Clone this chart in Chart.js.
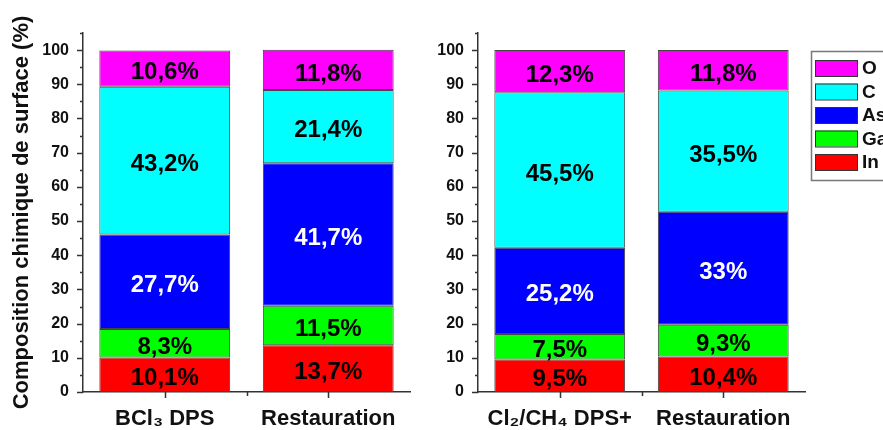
<!DOCTYPE html>
<html>
<head>
<meta charset="utf-8">
<script src="https://cdn.jsdelivr.net/npm/chart.js@4"></script>
<style>
  body { margin: 0; background: #fff; }
  #wrap { position: relative; width: 883px; height: 430px; overflow: hidden; }
  #left { position: absolute; left: 0; top: 0; }
  #right { position: absolute; left: 420px; top: 0; }
</style>
</head>
<body>
<div id="wrap">
  <canvas id="left" width="420" height="430"></canvas>
  <canvas id="right" width="463" height="430"></canvas>
</div>
<script>
// categories (left panel / right panel)
const categoriesLeft = ['BCl₃ DPS', 'Restauration'];
const categoriesRight = ['Cl₂/CH₄ DPS+', 'Restauration'];

// surface composition (%) for the 4 bars, in order
const valuesIn = [10.1, 13.7, 9.5, 10.4];
const valuesGa = [8.3, 11.5, 7.5, 9.3];
const valuesAs = [27.7, 41.7, 25.2, 33];
const valuesC  = [43.2, 21.4, 45.5, 35.5];
const valuesO  = [10.6, 11.8, 12.3, 11.8];

const yTitle = 'Composition chimique de surface (%)';
const yMax = 105;

const FONT = '"Liberation Sans", Arial, sans-serif';

function getDatasets(from, to){
    return [
        {label: 'In', data: valuesIn.slice(from, to), backgroundColor: '#ff0000', labelColor: '#000'},
        {label: 'Ga', data: valuesGa.slice(from, to), backgroundColor: '#00ff00', labelColor: '#000'},
        {label: 'As', data: valuesAs.slice(from, to), backgroundColor: '#0000ff', labelColor: '#fff'},
        {label: 'C',  data: valuesC.slice(from, to),  backgroundColor: '#00ffff', labelColor: '#000'},
        {label: 'O',  data: valuesO.slice(from, to),  backgroundColor: '#ff00ff', labelColor: '#000'}
    ].map(ds => Object.assign(ds, {
        borderColor: '#444',
        borderWidth: 1,
        borderSkipped: false,
        barPercentage: 0.8,
        categoryPercentage: 1.0
    }));
}

// percent labels in the middle of each segment
const segmentLabels = {
    id: 'segmentLabels',
    afterDatasetsDraw(chart){
        const ctx = chart.ctx;
        ctx.save();
        ctx.font = 'bold 24px ' + FONT;
        ctx.textAlign = 'center';
        ctx.textBaseline = 'middle';
        chart.data.datasets.forEach((ds, i) => {
            chart.getDatasetMeta(i).data.forEach((bar, j) => {
                const v = ds.data[j];
                ctx.fillStyle = ds.labelColor;
                ctx.fillText(String(v).replace('.', ',') + '%', bar.x, (bar.y + bar.base) / 2 + 4);
            });
        });
        ctx.restore();
    }
};

// outward tick marks, major / minor
const axisTicks = {
    id: 'axisTicks',
    afterDraw(chart){
        const ctx = chart.ctx;
        const ys = chart.scales.y, xs = chart.scales.x;
        const area = chart.chartArea;
        ctx.save();
        ctx.strokeStyle = '#333';
        ctx.lineWidth = 1.5;
        ctx.beginPath();
        ys.ticks.forEach(t => {
            const py = Math.round(ys.getPixelForValue(t.value)) + 0.5;
            const len = t.value % 10 === 0 ? 6 : 3;
            ctx.moveTo(area.left, py);
            ctx.lineTo(area.left - len, py);
        });
        const n = chart.data.labels.length;
        for (let i = 0; i < n; i++){
            const px = Math.round(xs.getPixelForValue(i)) + 0.5;
            ctx.moveTo(px, area.bottom);
            ctx.lineTo(px, area.bottom + 6);
            if (i < n - 1){
                const mid = Math.round((xs.getPixelForValue(i) + xs.getPixelForValue(i + 1)) / 2) + 0.5;
                ctx.moveTo(mid, area.bottom);
                ctx.lineTo(mid, area.bottom + 4);
            }
        }
        ctx.stroke();
        ctx.restore();
    }
};

// boxed legend on the right, top element first
const boxLegend = {
    id: 'boxLegend',
    afterDraw(chart){
        const ctx = chart.ctx;
        const x0 = chart.chartArea.right + 6, y0 = 51;
        const items = chart.data.datasets.slice().reverse();
        ctx.save();
        ctx.strokeStyle = '#777';
        ctx.lineWidth = 1.5;
        ctx.strokeRect(x0 + 0.5, y0 + 0.5, 120, 129);
        ctx.font = 'bold 19px ' + FONT;
        ctx.textBaseline = 'middle';
        items.forEach((ds, i) => {
            const y = y0 + 9 + i * 23.5;
            ctx.fillStyle = ds.backgroundColor;
            ctx.fillRect(x0 + 4, y, 42, 16);
            ctx.strokeStyle = '#333';
            ctx.lineWidth = 1;
            ctx.strokeRect(x0 + 4.5, y + 0.5, 42, 16);
            ctx.fillStyle = '#111';
            ctx.fillText(ds.label, x0 + 51, y + 9);
        });
        ctx.restore();
    }
};

function getConfig(labels, datasets, withTitle, rightPad, yWidth){
    return {
        type: 'bar',
        data: {labels: labels, datasets: datasets},
        options: {
            responsive: false,
            animation: false,
            devicePixelRatio: 1,
            layout: {padding: {top: 33, right: rightPad, bottom: 0, left: 0}},
            plugins: {legend: {display: false}, tooltip: {enabled: false}},
            scales: {
                x: {
                    stacked: true,
                    grid: {display: false},
                    border: {display: true, color: '#333', width: 1.5},
                    ticks: {color: '#111', padding: 6, font: {family: FONT, size: 22, weight: 'bold'}},
                    afterFit: s => { s.height = 38; }
                },
                y: {
                    stacked: true,
                    min: 0,
                    max: yMax,
                    grid: {display: false},
                    border: {display: true, color: '#333', width: 1.5},
                    ticks: {
                        stepSize: 5,
                        autoSkip: false,
                        padding: 6,
                        color: '#111',
                        font: {family: FONT, size: 16, weight: 'bold'},
                        callback: v => (v % 10 === 0 ? v : '')
                    },
                    title: {
                        display: withTitle,
                        text: yTitle,
                        color: '#111',
                        padding: {top: 9, bottom: 0},
                        font: {family: FONT, size: 22, weight: 'bold'}
                    },
                    afterFit: s => { s.width = yWidth; }
                }
            }
        }
    };
}

new Chart(document.getElementById('left').getContext('2d'),
    Object.assign(getConfig(categoriesLeft, getDatasets(0, 2), true, 10, 83), {plugins: [segmentLabels, axisTicks]}));

new Chart(document.getElementById('right').getContext('2d'),
    Object.assign(getConfig(categoriesRight, getDatasets(2, 4), false, 78, 58), {plugins: [segmentLabels, axisTicks, boxLegend]}));
</script>
</body>
</html>
